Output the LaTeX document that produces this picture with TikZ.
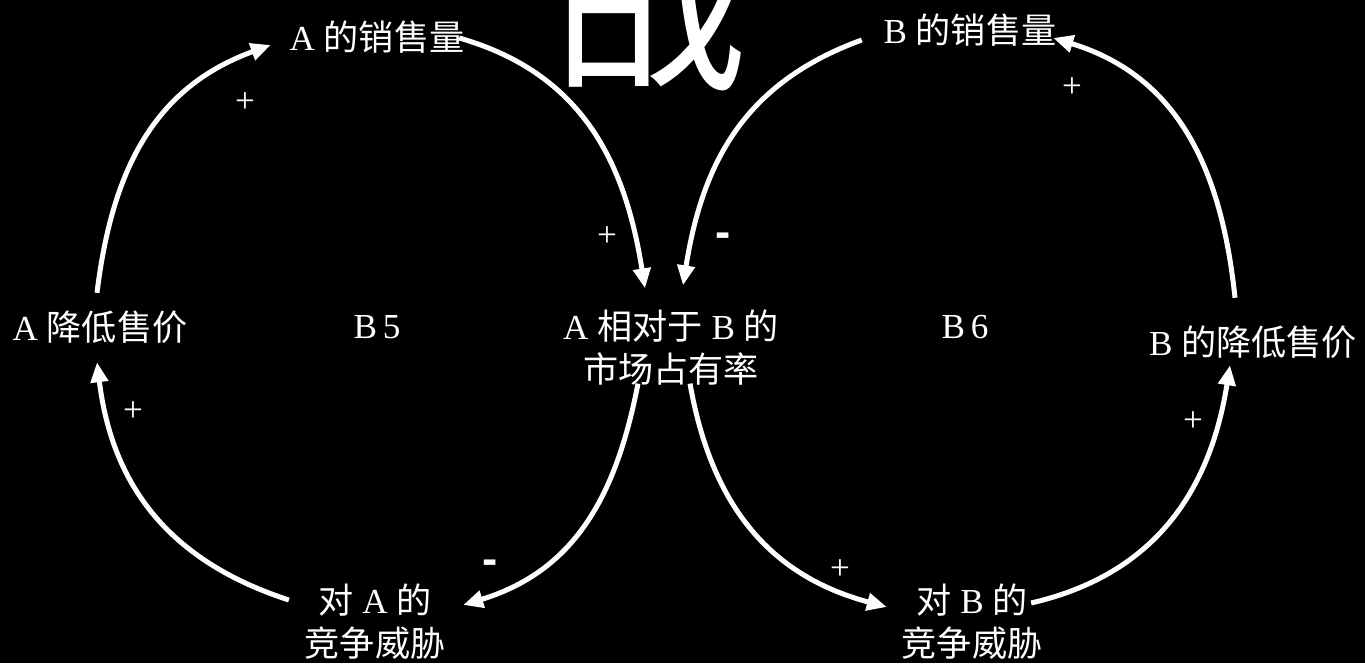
\documentclass[tikz,border=0pt]{standalone}
\usepackage{fontspec}
\setmainfont{Liberation Serif}
\newfontfamily\cjk{Noto Sans CJK SC}
\newfontfamily\signfont{Liberation Sans}
\usetikzlibrary{arrows.meta,calc}

\tikzset{
  lbl/.style={text=white, align=center, inner sep=2pt, font=\fontsize{20}{24.5}\selectfont},
  plus/.style={text=white, inner sep=0pt, font=\fontsize{20}{24}\selectfont},
  minus/.style={text=white, inner sep=0pt, font=\signfont\bfseries\fontsize{26}{26}\selectfont},
  linkarrow/.style={draw=white, line width=0.1cm, looseness=1.05,
    -{Triangle[length=0.4cm,width=0.34cm]}}
}

\begin{document}
\begin{tikzpicture}[x=0.02cm,y=0.02cm]
  \fill[black] (0,0) rectangle (1365,-663);
  \useasboundingbox (0,0) rectangle (1365,-663);
  \begin{scope}
    \clip (0,0) rectangle (1365,-663);
    \node[text=white, anchor=base, inner sep=0pt,
      font=\cjk\fontsize{110}{110}\selectfont] (title) at (650,-75) {战};
  \end{scope}

  \node[lbl] (salesA) at (377,-37) {A {\cjk 的销售量}};
  \node[lbl] (salesB) at (970,-30) {B {\cjk 的销售量}};
  \node[lbl] (lowA) at (100,-327) {A {\cjk 降低售价}};
  \node[lbl] (loopA) at (377,-327) {B\,5};
  \node[lbl] (share) at (671,-348) {A {\cjk 相对于} B {\cjk 的}\\{\cjk 市场占有率}};
  \node[lbl] (loopB) at (965,-327) {B\,6};
  \node[lbl] (lowB) at (1253,-342) {B {\cjk 的降低售价}};
  \node[lbl] (threatA) at (375,-622) {{\cjk 对} A {\cjk 的}\\{\cjk 竞争威胁}};
  \node[lbl] (threatB) at (972,-622) {{\cjk 对} B {\cjk 的}\\{\cjk 竞争威胁}};

  % loop B5
  \draw[linkarrow] ($(lowA.north)+(-3,14)$) to[out=83,in=200] ($(salesA.west)+(-15,-8)$);
  \draw[linkarrow] ($(salesA.east)+(-9,-1)$) to[out=-16,in=99] ($(share.north)+(-26,18)$);
  \draw[linkarrow] ($(share.south)+(-33,6)$) to[out=-101,in=17] ($(threatA.east)+(14,17)$);
  \draw[linkarrow] ($(threatA.west)+(-12,22)$) to[out=162,in=277] ($(lowA.south)+(-3,-15)$);

  % loop B6
  \draw[linkarrow] ($(salesB.west)+(-18,-10)$) to[out=200,in=81] ($(share.north)+(12,21)$);
  \draw[linkarrow] ($(lowB.north)+(-18,24)$) to[out=96,in=-17] ($(salesB.east)+(-7,-8)$);
  \draw[linkarrow] ($(share.south)+(19,6)$) to[out=-80,in=165] ($(threatB.west)+(-11,15)$);
  \draw[linkarrow] ($(threatB.east)+(-15,19)$) to[out=13,in=261] ($(lowB.south)+(-23,-3)$);

  \node[plus] (p1) at (245,-103) {+};
  \node[plus] (p2) at (607,-237) {+};
  \node[minus] (m1) at (490,-567) {-};
  \node[plus] (p3) at (133,-412) {+};
  \node[minus] (m2) at (723,-240) {-};
  \node[plus] (p4) at (1072,-88) {+};
  \node[plus] (p5) at (840,-570) {+};
  \node[plus] (p6) at (1193,-422) {+};
\end{tikzpicture}
\end{document}
